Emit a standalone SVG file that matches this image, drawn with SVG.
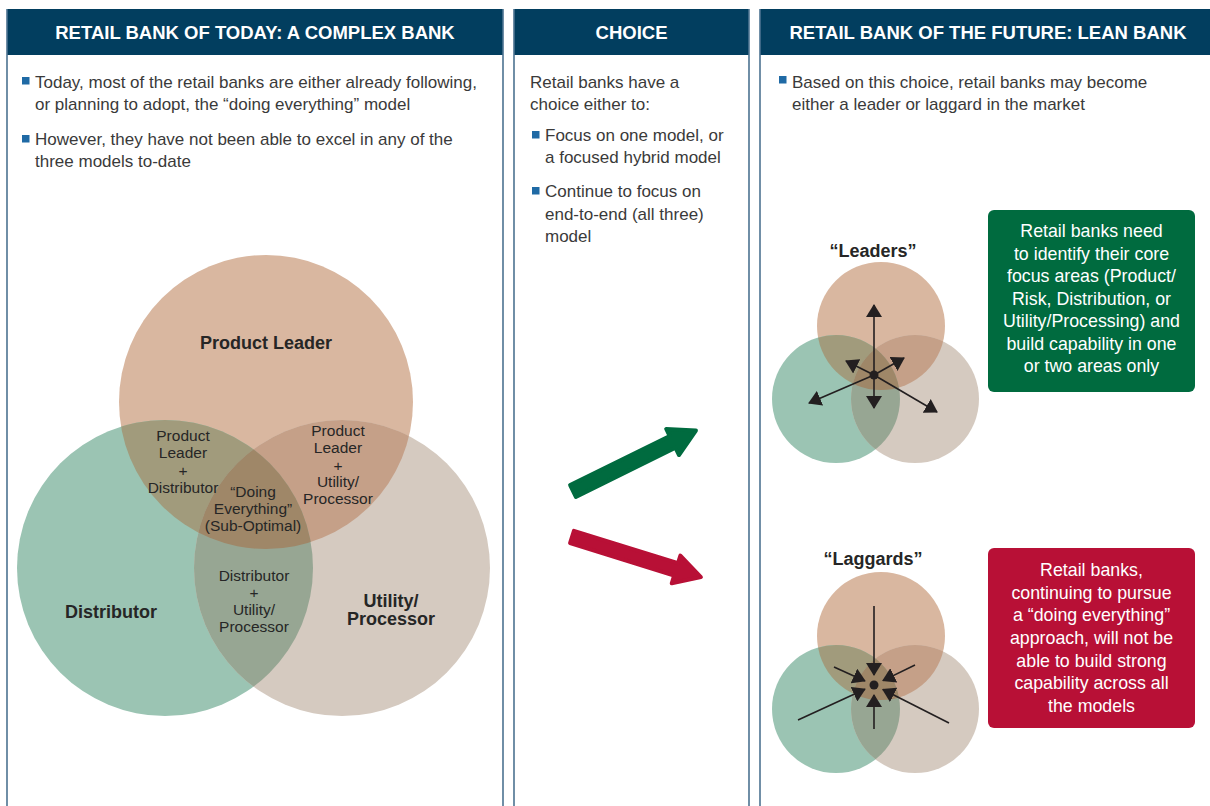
<svg xmlns="http://www.w3.org/2000/svg" width="1210" height="806" viewBox="0 0 1210 806">
<style>
text{font-family:"Liberation Sans",Arial,Helvetica,sans-serif;}
.hdr{fill:#023e5f;}
.hdrt{fill:#ffffff;font-weight:bold;font-size:18.5px;text-anchor:middle;}
.border{stroke:#4d7391;stroke-width:1.6;fill:none;}
.body{fill:#3a3a3a;font-size:17px;}
.bul{fill:#1f6aa5;}
.lbl{fill:#262626;font-size:15.5px;text-anchor:middle;}
.blbl{fill:#262626;font-size:18px;font-weight:bold;text-anchor:middle;}
.boxt{fill:#ffffff;font-size:17.8px;text-anchor:middle;}
.cP{fill:#d9b7a0;}
.cD{fill:#9bc4b3;}
.cU{fill:#d5cac0;}
.iPD{fill:#a19b7c;}
.iPU{fill:#c5a088;}
.iDU{fill:#97a693;}
.iPDU{fill:#9f8768;}
.ar{stroke:#231f20;stroke-width:1.6;fill:none;}
</style>
<defs>
<marker id="ah" viewBox="0 0 13 16" refX="12" refY="8" markerWidth="13" markerHeight="16" markerUnits="userSpaceOnUse" orient="auto"><path d="M0,0 L13,8 L0,16 z" fill="#231f20"/></marker>
<clipPath id="clP"><circle cx="266" cy="402" r="147"/></clipPath>
<clipPath id="clD"><circle cx="165" cy="568" r="148"/></clipPath>
<clipPath id="sclP"><circle cx="7" cy="-49" r="64"/></clipPath>
<clipPath id="sclD"><circle cx="-38" cy="24" r="64"/></clipPath>
<g id="smallVenn">
<circle class="cP" cx="7" cy="-49" r="64"/>
<circle class="cD" cx="-38" cy="24" r="64"/>
<circle class="cU" cx="41" cy="24" r="64"/>
<circle class="iPD" cx="-38" cy="24" r="64" clip-path="url(#sclP)"/>
<circle class="iPU" cx="41" cy="24" r="64" clip-path="url(#sclP)"/>
<circle class="iDU" cx="41" cy="24" r="64" clip-path="url(#sclD)"/>
<g clip-path="url(#sclP)"><circle class="iPDU" cx="41" cy="24" r="64" clip-path="url(#sclD)"/></g>
</g>
</defs>
<rect width="1210" height="806" fill="#ffffff"/>

<g id="panel-today">
<rect class="hdr" x="7" y="9" width="496" height="46"/>
<path class="border" d="M7,9 V806 M503,9 V806"/>
<text class="hdrt" x="255" y="39">RETAIL BANK OF TODAY: A COMPLEX BANK</text>
<rect class="bul" x="22" y="77" width="7.5" height="7.5"/>
<text class="body" x="35" y="88">Today, most of the retail banks are either already following,</text>
<text class="body" x="35" y="110">or planning to adopt, the “doing everything” model</text>
<rect class="bul" x="22" y="135" width="7.5" height="7.5"/>
<text class="body" x="35" y="145">However, they have not been able to excel in any of the</text>
<text class="body" x="35" y="167">three models to-date</text>
</g>

<g id="venn">
<circle class="cP" cx="266" cy="402" r="147"/>
<circle class="cD" cx="165" cy="568" r="148"/>
<circle class="cU" cx="342" cy="568" r="148"/>
<circle class="iPD" cx="165" cy="568" r="148" clip-path="url(#clP)"/>
<circle class="iPU" cx="342" cy="568" r="148" clip-path="url(#clP)"/>
<circle class="iDU" cx="342" cy="568" r="148" clip-path="url(#clD)"/>
<g clip-path="url(#clP)"><circle class="iPDU" cx="342" cy="568" r="148" clip-path="url(#clD)"/></g>
<text class="blbl" x="266" y="349">Product Leader</text>
<text class="blbl" x="111" y="618">Distributor</text>
<text class="blbl" x="391" y="607">Utility/</text>
<text class="blbl" x="391" y="625">Processor</text>
<text class="lbl" x="183" y="441">Product</text>
<text class="lbl" x="183" y="458">Leader</text>
<text class="lbl" x="183" y="476">+</text>
<text class="lbl" x="183" y="493">Distributor</text>
<text class="lbl" x="338" y="436">Product</text>
<text class="lbl" x="338" y="453">Leader</text>
<text class="lbl" x="338" y="471">+</text>
<text class="lbl" x="338" y="487">Utility/</text>
<text class="lbl" x="338" y="504">Processor</text>
<text class="lbl" x="253" y="497">“Doing</text>
<text class="lbl" x="253" y="514">Everything”</text>
<text class="lbl" x="253" y="531">(Sub-Optimal)</text>
<text class="lbl" x="254" y="581">Distributor</text>
<text class="lbl" x="254" y="598">+</text>
<text class="lbl" x="254" y="615">Utility/</text>
<text class="lbl" x="254" y="632">Processor</text>
</g>

<g id="panel-choice">
<rect class="hdr" x="514" y="9" width="235" height="46"/>
<path class="border" d="M514,9 V806 M749,9 V806"/>
<text class="hdrt" x="631.5" y="39">CHOICE</text>
<text class="body" x="530" y="88">Retail banks have a</text>
<text class="body" x="530" y="110">choice either to:</text>
<rect class="bul" x="532" y="131" width="7.5" height="7.5"/>
<text class="body" x="545" y="141">Focus on one model, or</text>
<text class="body" x="545" y="163">a focused hybrid model</text>
<rect class="bul" x="532" y="187" width="7.5" height="7.5"/>
<text class="body" x="545" y="197">Continue to focus on</text>
<text class="body" x="545" y="220">end-to-end (all three)</text>
<text class="body" x="545" y="242">model</text>
</g>

<g id="panel-future">
<rect class="hdr" x="760" y="9" width="450" height="46"/>
<path class="border" d="M760,9 V806"/>
<text class="hdrt" x="988" y="39">RETAIL BANK OF THE FUTURE: LEAN BANK</text>
<rect class="bul" x="779" y="76" width="7.5" height="7.5"/>
<text class="body" x="792" y="88">Based on this choice, retail banks may become</text>
<text class="body" x="792" y="110">either a leader or laggard in the market</text>
</g>

<g id="leaders">
<text class="blbl" x="873" y="257">“Leaders”</text>
<g transform="translate(874,375)">
<use href="#smallVenn"/>
<g class="ar">
<line x1="0" y1="0" x2="0" y2="-70" marker-end="url(#ah)"/>
<line x1="0" y1="0" x2="0" y2="33" marker-end="url(#ah)"/>
<line x1="0" y1="0" x2="-28" y2="-14" marker-end="url(#ah)"/>
<line x1="0" y1="0" x2="30" y2="-17" marker-end="url(#ah)"/>
<line x1="0" y1="0" x2="-65" y2="28" marker-end="url(#ah)"/>
<line x1="0" y1="0" x2="63" y2="37" marker-end="url(#ah)"/>
</g>
<circle cx="0" cy="0" r="4.5" fill="#231f20"/>
</g>
</g>

<g id="laggards">
<text class="blbl" x="873" y="565">“Laggards”</text>
<g transform="translate(874,685)">
<use href="#smallVenn"/>
<g class="ar">
<line x1="0" y1="-79" x2="0" y2="-10" marker-end="url(#ah)"/>
<line x1="0" y1="44" x2="0" y2="10" marker-end="url(#ah)"/>
<line x1="-40" y1="-18" x2="-9.1" y2="-4.1" marker-end="url(#ah)"/>
<line x1="41" y1="-20" x2="9" y2="-4.4" marker-end="url(#ah)"/>
<line x1="-76" y1="35" x2="-9.1" y2="4.2" marker-end="url(#ah)"/>
<line x1="75" y1="38" x2="8.9" y2="4.5" marker-end="url(#ah)"/>
</g>
<circle cx="0" cy="0" r="4.5" fill="#231f20"/>
</g>
</g>

<g id="connectors">
<g transform="translate(573,491) rotate(-26.2)">
<polygon points="0,-6.5 111,-6.5 111,-14.5 137,0 111,14.5 111,6.5 0,6.5" fill="#006b3f" stroke="#006b3f" stroke-width="4" stroke-linejoin="round"/>
</g>
<g transform="translate(572,537) rotate(17.3)">
<polygon points="0,-6.5 109,-6.5 109,-14.5 135,0 109,14.5 109,6.5 0,6.5" fill="#b81036" stroke="#b81036" stroke-width="4" stroke-linejoin="round"/>
</g>
</g>

<g id="box-leaders">
<rect x="988" y="210" width="207" height="182" rx="6" fill="#006b3f"/>
<text class="boxt" x="1091.5" y="237">Retail banks need</text>
<text class="boxt" x="1091.5" y="259.5">to identify their core</text>
<text class="boxt" x="1091.5" y="282">focus areas (Product/</text>
<text class="boxt" x="1091.5" y="304.5">Risk, Distribution, or</text>
<text class="boxt" x="1091.5" y="327">Utility/Processing) and</text>
<text class="boxt" x="1091.5" y="349.5">build capability in one</text>
<text class="boxt" x="1091.5" y="372">or two areas only</text>
</g>

<g id="box-laggards">
<rect x="988" y="548" width="207" height="180" rx="6" fill="#b81036"/>
<text class="boxt" x="1091.5" y="576">Retail banks,</text>
<text class="boxt" x="1091.5" y="598.7">continuing to pursue</text>
<text class="boxt" x="1091.5" y="621.3">a “doing everything”</text>
<text class="boxt" x="1091.5" y="644">approach, will not be</text>
<text class="boxt" x="1091.5" y="666.7">able to build strong</text>
<text class="boxt" x="1091.5" y="689.3">capability across all</text>
<text class="boxt" x="1091.5" y="712">the models</text>
</g>
</svg>
